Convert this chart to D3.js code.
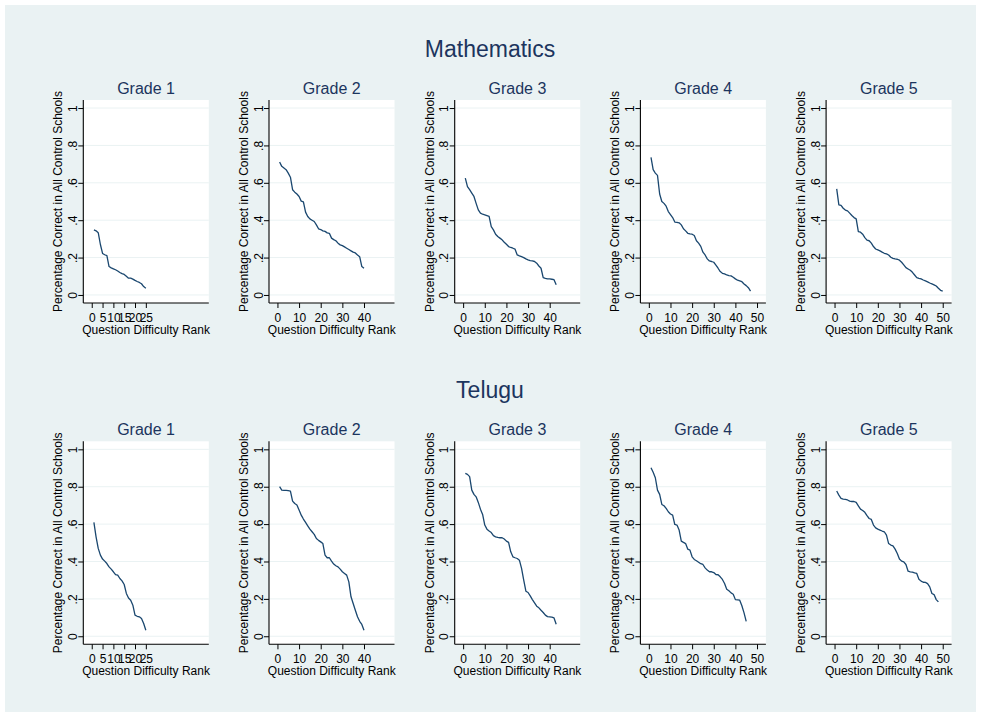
<!DOCTYPE html>
<html>
<head>
<meta charset="utf-8">
<script src="https://cdn.jsdelivr.net/npm/d3@7"></script>
<style>
  html, body { margin: 0; padding: 0; background: #ffffff; }
  svg { display: block; font-family: "Liberation Sans", Arial, sans-serif; }
</style>
</head>
<body>
<svg id="chart" width="981" height="717"></svg>
<script>
// Share of control-school pupils answering each question correctly,
// questions ordered from easiest (rank 1) to hardest.
const subjects = ["Mathematics", "Telugu"];
const grades = ["Grade 1", "Grade 2", "Grade 3", "Grade 4", "Grade 5"];

const mathGrade1 = [0.348,0.343,0.333,0.27,0.222,0.215,0.21,0.152,0.145,0.14,0.135,0.128,0.12,0.114,0.11,0.1,0.09,0.09,0.085,0.078,0.072,0.067,0.06,0.045,0.036];
const mathGrade2 = [0.711,0.688,0.679,0.67,0.652,0.63,0.563,0.55,0.54,0.527,0.502,0.498,0.443,0.42,0.407,0.4,0.393,0.375,0.354,0.35,0.343,0.34,0.332,0.33,0.304,0.296,0.29,0.277,0.268,0.264,0.257,0.25,0.243,0.236,0.229,0.225,0.214,0.205,0.152,0.143];
const mathGrade3 = [0.625,0.58,0.563,0.545,0.527,0.49,0.455,0.438,0.432,0.429,0.425,0.421,0.366,0.348,0.325,0.313,0.304,0.295,0.282,0.271,0.259,0.254,0.25,0.245,0.214,0.209,0.205,0.2,0.193,0.188,0.184,0.182,0.179,0.17,0.155,0.143,0.093,0.089,0.086,0.086,0.084,0.082,0.054];
const mathGrade4 = [0.736,0.67,0.652,0.64,0.54,0.5,0.49,0.475,0.446,0.43,0.414,0.39,0.388,0.386,0.375,0.354,0.343,0.33,0.327,0.325,0.318,0.29,0.277,0.26,0.229,0.214,0.193,0.182,0.179,0.175,0.16,0.143,0.125,0.116,0.113,0.107,0.104,0.102,0.095,0.086,0.079,0.075,0.071,0.059,0.05,0.039,0.021];
const mathGrade5 = [0.568,0.482,0.479,0.464,0.454,0.45,0.438,0.425,0.414,0.407,0.339,0.336,0.325,0.307,0.293,0.29,0.277,0.259,0.246,0.241,0.236,0.229,0.223,0.22,0.214,0.202,0.196,0.193,0.191,0.186,0.175,0.161,0.146,0.139,0.132,0.121,0.107,0.093,0.089,0.086,0.08,0.075,0.07,0.064,0.059,0.054,0.048,0.036,0.025,0.021];

const teluguGrade1 = [0.609,0.532,0.47,0.434,0.413,0.402,0.389,0.371,0.359,0.345,0.33,0.327,0.309,0.296,0.277,0.229,0.205,0.193,0.166,0.113,0.107,0.104,0.095,0.068,0.032];
const teluguGrade2 = [0.8,0.782,0.78,0.78,0.779,0.777,0.723,0.71,0.702,0.675,0.648,0.627,0.609,0.591,0.573,0.559,0.545,0.523,0.513,0.505,0.496,0.434,0.42,0.42,0.402,0.386,0.377,0.371,0.359,0.345,0.336,0.327,0.291,0.211,0.175,0.139,0.104,0.08,0.063,0.032];
const teluguGrade3 = [0.871,0.866,0.854,0.782,0.759,0.746,0.716,0.68,0.652,0.595,0.573,0.563,0.555,0.538,0.532,0.529,0.527,0.527,0.52,0.509,0.502,0.452,0.425,0.42,0.416,0.407,0.363,0.3,0.241,0.234,0.216,0.196,0.179,0.161,0.152,0.139,0.127,0.113,0.105,0.104,0.102,0.098,0.064];
const teluguGrade4 = [0.902,0.877,0.848,0.782,0.759,0.705,0.698,0.684,0.666,0.654,0.648,0.598,0.595,0.568,0.509,0.502,0.496,0.466,0.461,0.425,0.411,0.404,0.396,0.388,0.384,0.366,0.354,0.345,0.345,0.341,0.33,0.329,0.318,0.304,0.282,0.252,0.243,0.232,0.225,0.196,0.195,0.193,0.163,0.125,0.08];
const teluguGrade5 = [0.777,0.755,0.738,0.734,0.732,0.729,0.723,0.721,0.721,0.716,0.698,0.68,0.673,0.663,0.645,0.63,0.625,0.595,0.58,0.573,0.568,0.563,0.559,0.541,0.496,0.488,0.484,0.466,0.443,0.413,0.402,0.398,0.384,0.348,0.345,0.343,0.339,0.336,0.305,0.295,0.289,0.288,0.282,0.264,0.229,0.223,0.196,0.184];

const seriesBySubject = [
  [mathGrade1, mathGrade2, mathGrade3, mathGrade4, mathGrade5],
  [teluguGrade1, teluguGrade2, teluguGrade3, teluguGrade4, teluguGrade5]
];

const xTicksByGrade = [
  [0, 5, 10, 15, 20, 25],
  [0, 10, 20, 30, 40],
  [0, 10, 20, 30, 40],
  [0, 10, 20, 30, 40, 50],
  [0, 10, 20, 30, 40, 50]
];
const yTicks = [0, 0.2, 0.4, 0.6, 0.8, 1];
const yTickLabels = ["0", ".2", ".4", ".6", ".8", "1"];

const yTitle = "Percentage Correct in All Control Schools";
const xTitle = "Question Difficulty Rank";

// ---- layout ----
const navy = "#1a476f";
const titleColor = "#1c355e";
const panelW = 125.5;
const panelH = 203;
const firstLeft = 83.3;
const colStep = 185.7;
const rowTops = [100, 441.3];
const subjectBaselines = [57, 398];

const svg = d3.select("#chart");

// outer background band
svg.append("rect")
  .attr("x", 5).attr("y", 5)
  .attr("width", 971).attr("height", 707)
  .attr("fill", "#eaf2f3");

const xScale = d3.scaleLinear().domain([-3.9, 54.1]).range([0, panelW]);
const yScale = d3.scaleLinear().domain([-0.043, 1.043]).range([panelH, 0]);

const line = d3.line()
  .x((d, i) => xScale(i + 1))
  .y(d => yScale(d));

subjects.forEach((subject, r) => {
  svg.append("text")
    .attr("x", 490).attr("y", subjectBaselines[r])
    .attr("text-anchor", "middle")
    .attr("font-size", 23)
    .attr("fill", titleColor)
    .text(subject);

  grades.forEach((grade, c) => {
    const g = svg.append("g")
      .attr("transform", `translate(${firstLeft + c * colStep},${rowTops[r]})`);

    // white plot region
    g.append("rect")
      .attr("x", 0).attr("y", 0)
      .attr("width", panelW).attr("height", panelH)
      .attr("fill", "#ffffff");

    // horizontal grid lines
    g.selectAll("line.grid")
      .data(yTicks)
      .join("line")
      .attr("class", "grid")
      .attr("x1", 0).attr("x2", panelW)
      .attr("y1", d => yScale(d)).attr("y2", d => yScale(d))
      .attr("stroke", "#eaf2f3")
      .attr("stroke-width", 1);

    // y axis
    const yAxis = g.append("g")
      .call(d3.axisLeft(yScale)
        .tickValues(yTicks)
        .tickFormat((d, i) => yTickLabels[i])
        .tickSize(5)
        .tickPadding(3));
    yAxis.select(".domain").attr("stroke", "#000").attr("stroke-width", 1.1)
      .attr("d", `M0,0V${panelH}`);
    yAxis.selectAll(".tick line").attr("stroke", "#000");
    yAxis.selectAll(".tick text")
      .attr("font-size", 12)
      .attr("fill", "#000")
      .attr("font-family", "Liberation Sans, Arial, sans-serif")
      .attr("transform", "rotate(-90)")
      .attr("x", 0)
      .attr("y", -6.5)
      .attr("dy", 0)
      .attr("text-anchor", "middle");

    // x axis
    const xAxis = g.append("g")
      .attr("transform", `translate(0,${panelH})`)
      .call(d3.axisBottom(xScale)
        .tickValues(xTicksByGrade[c])
        .tickSize(5)
        .tickPadding(5));
    xAxis.select(".domain").attr("stroke", "#000").attr("stroke-width", 1.1)
      .attr("d", `M0,0H${panelW}`);
    xAxis.selectAll(".tick line").attr("stroke", "#000");
    xAxis.selectAll(".tick text")
      .attr("font-size", 12)
      .attr("fill", "#000")
      .attr("font-family", "Liberation Sans, Arial, sans-serif");

    // data line
    g.append("path")
      .datum(seriesBySubject[r][c])
      .attr("d", line)
      .attr("fill", "none")
      .attr("stroke", navy)
      .attr("stroke-width", 1.3)
      .attr("stroke-linejoin", "round");

    // panel title
    g.append("text")
      .attr("x", panelW / 2).attr("y", -6)
      .attr("text-anchor", "middle")
      .attr("font-size", 16)
      .attr("fill", titleColor)
      .text(grade);

    // axis titles
    g.append("text")
      .attr("transform", `translate(-21,${panelH / 2}) rotate(-90)`)
      .attr("text-anchor", "middle")
      .attr("font-size", 12)
      .attr("fill", "#000")
      .text(yTitle);

    g.append("text")
      .attr("x", panelW / 2).attr("y", panelH + 31)
      .attr("text-anchor", "middle")
      .attr("font-size", 12)
      .attr("fill", "#000")
      .text(xTitle);
  });
});
</script>
</body>
</html>
